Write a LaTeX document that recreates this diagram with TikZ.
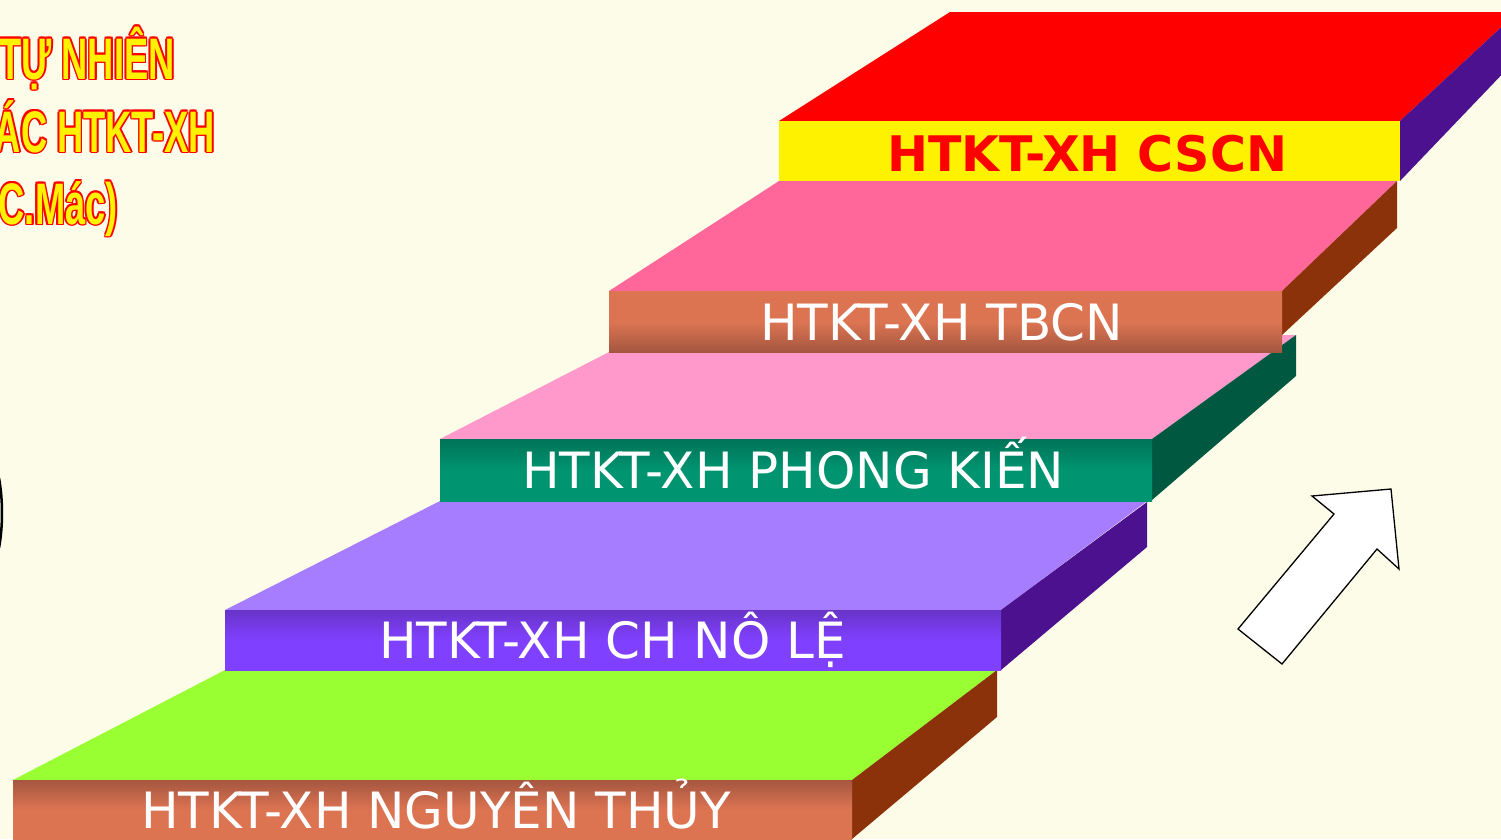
\documentclass[tikz,border=0pt]{standalone}
\usepackage{fontspec}
\setmainfont{DejaVu Sans}
\newfontfamily\titlefont{Liberation Sans}
\definecolor{bgc}{RGB}{253,252,233}
\definecolor{limetop}{RGB}{153,255,51}
\definecolor{lavtop}{RGB}{166,125,255}
\definecolor{lpinktop}{RGB}{255,153,204}
\definecolor{hpinktop}{RGB}{255,102,153}
\definecolor{brownside}{RGB}{140,50,10}
\definecolor{purpleside}{RGB}{75,17,142}
\definecolor{greenside}{RGB}{0,88,64}
\definecolor{brownlight}{RGB}{220,116,82}
\definecolor{browndark}{RGB}{165,86,64}
\definecolor{purplelight}{RGB}{128,64,255}
\definecolor{purpledark}{RGB}{104,52,200}
\definecolor{greenlight}{RGB}{0,148,112}
\definecolor{greendark}{RGB}{0,115,88}
\tikzset{
  lbl/.style={anchor=base west, inner sep=0pt, text=white, font=\fontsize{50}{52}\selectfont},
  lblb/.style={anchor=base west, inner sep=0pt, text=red, font=\fontsize{49}{51}\selectfont\bfseries},
  ttl/.style={anchor=base east, inner sep=0pt, font=\titlefont\bfseries\fontsize{58.6}{60}\selectfont},
  arrowshape/.style={draw=black, fill=white, line width=1.3pt, line join=miter}
}
\newcommand\outlined[4]{%
  \foreach \dx/\dy [count=\k] in {1.6/0,-1.6/0,0/1.6,0/-1.6,1.1/1.1,-1.1/1.1,1.1/-1.1,-1.1/-1.1}{
    \node[ttl, text=red, xshift=\dx pt, yshift=\dy pt] (#1r\k) at (#2,#3) {\scalebox{0.62}[1]{#4}};
  }
  \node[ttl, text=yellow] (#1) at (#2,#3) {\scalebox{0.62}[1]{#4}};
}
\begin{document}
\begin{tikzpicture}[x=1pt,y=-1pt]
\fill[bgc] (0,0) rectangle (1501,839);
\useasboundingbox (0,0) rectangle (1501,839);

% step 1: nguyen thuy
\fill[limetop] (13,780) -- (225,670) -- (997,670) -- (852,780) -- cycle;
\fill[brownside] (852,780) -- (997,670) -- (997,717) -- (852,839) -- cycle;
\shade[top color=browndark, bottom color=brownlight, middle color=brownlight] (13,780) rectangle (852,839);
\node[lbl] (l1) at (141,828) {HTKT-XH NGUYÊN THỦY};

% step 2: CH no le
\fill[lavtop] (225,610) -- (440,501) -- (1147,501) -- (1001,610) -- cycle;
\fill[purpleside] (1001,610) -- (1147,502) -- (1147,547) -- (1001,670) -- cycle;
\shade[top color=purpledark, bottom color=purplelight, middle color=purplelight] (225,610) rectangle (1001,670);
\node[lbl] (l2) at (379,658) {HTKT-XH CH NÔ LỆ};

% step 3: phong kien
\fill[lpinktop] (440,439) -- (642,335) -- (1296,335) -- (1152,439) -- cycle;
\fill[greenside] (1152,439) -- (1296,335) -- (1296,376) -- (1152,500) -- cycle;
\shade[top color=greendark, bottom color=greenlight, middle color=greenlight] (440,439) rectangle (1152,501);
\node[lbl] (l3) at (522,488) {HTKT-XH PHONG KIẾN};

% step 4: TBCN
\fill[hpinktop] (609,291) -- (779,181) -- (1397,181) -- (1282,291) -- cycle;
\fill[brownside] (1282,291) -- (1397,181) -- (1397,228) -- (1282,335) -- cycle;
\shade[top color=brownlight, bottom color=browndark, middle color=brownlight] (609,291) rectangle (1282,352);
\node[lbl] (l4) at (760,340) {HTKT-XH TBCN};

% step 5: CSCN
\fill[red] (779,121) -- (950,12) -- (1510,12) -- (1510,19) -- (1400,121) -- cycle;
\fill[purpleside] (1400,121) -- (1510,19) -- (1510,66) -- (1400,181) -- cycle;
\fill[yellow] (779,121) rectangle (1400,181);
\node[lblb] (l5) at (887,171) {HTKT-XH CSCN};

% arrow
\draw[arrowshape] (1238,629) -- (1334,514) -- (1312,496) -- (1391,489) -- (1399,569) -- (1377,549) -- (1282,664) -- cycle;

% left arc
\draw[line width=2.5pt] (-1,478) .. controls (3,500) and (3,526) .. (-1,548);

% title text
\outlined{t1}{175}{79}{TỰ NHIÊN}
\outlined{t2}{215}{152}{ÁC HTKT-XH}
\outlined{t3}{118}{224}{C.Mác)}
\end{tikzpicture}
\end{document}
